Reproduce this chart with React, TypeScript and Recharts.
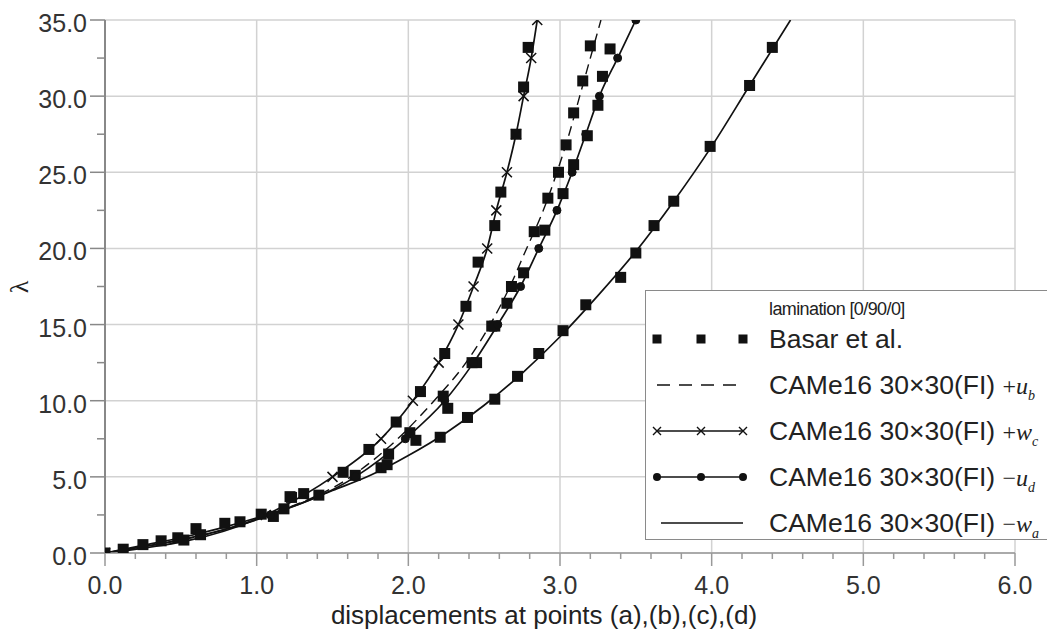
import React from 'react';
import { ComposedChart, Line, Scatter, XAxis, YAxis, CartesianGrid } from 'recharts';

// load factor steps of the CAMe16 runs (a marker at every step)
const lambdaSteps = [0, 2.5, 5, 7.5, 10, 12.5, 15, 17.5, 20, 22.5, 25, 27.5, 30, 32.5, 35];
const ubDisp = [0, 1.08, 1.62, 1.93, 2.17, 2.38, 2.54, 2.67, 2.78, 2.89, 2.98, 3.06, 3.13, 3.2, 3.27];
const wcDisp = [0, 1.06, 1.5, 1.82, 2.03, 2.2, 2.33, 2.43, 2.52, 2.58, 2.65, 2.71, 2.76, 2.81, 2.85];
const udDisp = [0, 1.09, 1.65, 1.98, 2.24, 2.43, 2.59, 2.74, 2.86, 2.98, 3.08, 3.17, 3.26, 3.38, 3.5];

// -w_a curve (no markers)
const waDisp = [0, 0.25, 0.5, 0.75, 1.0, 1.25, 1.5, 1.75, 2.0, 2.25, 2.5, 2.75, 3.0, 3.25, 3.5, 3.75, 4.0, 4.25, 4.52];
const waLambda = [0, 0.5, 1.0, 1.6, 2.3, 3.1, 4.1, 5.1, 6.4, 7.9, 9.7, 11.8, 14.2, 16.9, 19.8, 23.1, 26.7, 30.7, 35];

// Basar et al. reference points, one list per branch
const basarLowX = [0, 0.12, 0.25, 0.37, 0.48, 0.52, 0.6, 0.63, 0.79, 0.89, 1.03, 1.18, 1.23, 1.31];
const basarLowY = [0, 0.25, 0.55, 0.8, 1.0, 0.85, 1.6, 1.2, 1.95, 2.05, 2.55, 2.9, 3.65, 3.9];
const basarWcX = [2.79, 2.76, 2.71, 2.61, 2.57, 2.46, 2.38, 2.24, 2.08, 1.92, 1.74, 1.57, 1.22];
const basarWcY = [33.2, 30.6, 27.5, 23.7, 21.5, 19.1, 16.2, 13.1, 10.6, 8.6, 6.8, 5.3, 3.7];
const basarUbX = [3.2, 3.15, 3.09, 3.04, 2.99, 2.92, 2.83, 2.68, 2.55, 2.42, 2.23, 2.01, 1.87, 1.65];
const basarUbY = [33.3, 31.0, 28.9, 26.8, 25.0, 23.3, 21.1, 17.5, 14.9, 12.5, 10.3, 7.9, 6.5, 5.1];
const basarUdX = [3.33, 3.28, 3.25, 3.18, 3.09, 3.02, 2.9, 2.76, 2.65, 2.57, 2.45, 2.26, 2.05, 1.82];
const basarUdY = [33.1, 31.3, 29.4, 27.4, 25.5, 23.6, 21.2, 18.4, 16.4, 14.9, 12.5, 9.5, 7.4, 5.6];
const basarWaX = [4.4, 4.25, 3.99, 3.75, 3.62, 3.5, 3.4, 3.17, 3.02, 2.86, 2.72, 2.57, 2.39, 2.21, 1.86, 1.41, 1.11];
const basarWaY = [33.2, 30.7, 26.7, 23.1, 21.5, 19.7, 18.1, 16.3, 14.6, 13.1, 11.6, 10.1, 8.9, 7.6, 5.8, 3.8, 2.4];

// axis ticks (labels only on the major ones)
const xTicks = [0, 0.2, 0.4, 0.6, 0.8, 1, 1.2, 1.4, 1.6, 1.8, 2, 2.2, 2.4, 2.6, 2.8, 3, 3.2, 3.4, 3.6, 3.8, 4,
  4.2, 4.4, 4.6, 4.8, 5, 5.2, 5.4, 5.6, 5.8, 6];
const yTicks = [0, 2.5, 5, 7.5, 10, 12.5, 15, 17.5, 20, 22.5, 25, 27.5, 30, 32.5, 35];
const xGrid = [0, 1, 2, 3, 4, 5, 6];
const yGrid = [0, 5, 10, 15, 20, 25, 30, 35];

const toPoints = (xs: number[], ys: number[]) => xs.map((x, i) => ({ x, y: ys[i] }));

const ubData = toPoints(ubDisp, lambdaSteps);
const wcData = toPoints(wcDisp, lambdaSteps);
const udData = toPoints(udDisp, lambdaSteps);
const waData = toPoints(waDisp, waLambda);
const basarData = [
  ...toPoints(basarLowX, basarLowY),
  ...toPoints(basarWcX, basarWcY),
  ...toPoints(basarUbX, basarUbY),
  ...toPoints(basarUdX, basarUdY),
  ...toPoints(basarWaX, basarWaY)
];

const SANS = '"Liberation Sans", Arial, sans-serif';
const SERIF = '"Liberation Serif", "Times New Roman", serif';
const INK = '#111';

const isMajor = (v: number, step: number) => Math.abs(v / step - Math.round(v / step)) < 1e-6;

const XTick = (props: any) => {
  const { x, y, payload } = props;
  const v = payload.value as number;
  const major = isMajor(v, 1);
  return (
    <g>
      <line x1={x} y1={y} x2={x} y2={y + (major ? 13 : 6)} stroke="#999" strokeWidth={1.5} />
      {major && (
        <text x={x} y={y + 41} textAnchor="middle" fontSize={25} fontFamily={SANS} fill="#333">
          {v.toFixed(1)}
        </text>
      )}
    </g>
  );
};

const YTick = (props: any) => {
  const { x, y, payload } = props;
  const v = payload.value as number;
  const major = isMajor(v, 5);
  return (
    <g>
      <line x1={x - (major ? 15 : 8)} y1={y} x2={x} y2={y} stroke="#888" strokeWidth={1.5} />
      {major && (
        <text x={x - 18} y={y + 12} textAnchor="end" fontSize={25} fontFamily={SANS} fill="#333">
          {v.toFixed(1)}
        </text>
      )}
    </g>
  );
};

const Square = (props: any) => {
  const { cx, cy } = props;
  if (cx == null || cy == null) return null;
  return <rect x={cx - 5.5} y={cy - 5.5} width={11} height={11} fill={INK} />;
};

const CrossDot = (props: any) => {
  const { cx, cy, index } = props;
  if (cx == null || cy == null) return <g key={`c-${index}`} />;
  const s = 5;
  return (
    <path
      key={`c-${index}`}
      d={`M${cx - s},${cy - s}L${cx + s},${cy + s}M${cx - s},${cy + s}L${cx + s},${cy - s}`}
      stroke={INK}
      strokeWidth={1.5}
      fill="none"
    />
  );
};

type SymbolKind = 'square' | 'dash' | 'cross' | 'circle' | 'solid';

const LegendSymbol = ({ kind }: { kind: SymbolKind }) => {
  const cs = [8, 52, 94];
  return (
    <svg width={104} height={20} style={{ position: 'absolute', left: 3, top: 5 }}>
      {kind === 'square' && cs.map((c) => <rect key={c} x={c - 4.5} y={5.5} width={9} height={9} fill={INK} />)}
      {kind === 'dash' && <line x1={8} y1={10} x2={96} y2={10} stroke={INK} strokeWidth={1.3} strokeDasharray="13 9" />}
      {(kind === 'cross' || kind === 'circle' || kind === 'solid') && (
        <line x1={kind === 'solid' ? 12 : 8} y1={10} x2={94} y2={10} stroke={INK} strokeWidth={1.5} />
      )}
      {kind === 'cross' &&
        cs.map((c) => (
          <path key={c} d={`M${c - 4},6L${c + 4},14M${c - 4},14L${c + 4},6`} stroke={INK} strokeWidth={1.4} />
        ))}
      {kind === 'circle' && cs.map((c) => <circle key={c} cx={c} cy={10} r={4} fill={INK} />)}
    </svg>
  );
};

const legendRows: { kind: SymbolKind; sign?: string; v?: string; sub?: string }[] = [
  { kind: 'square' },
  { kind: 'dash', sign: '+', v: 'u', sub: 'b' },
  { kind: 'cross', sign: '+', v: 'w', sub: 'c' },
  { kind: 'circle', sign: '\u2212', v: 'u', sub: 'd' },
  { kind: 'solid', sign: '\u2212', v: 'w', sub: 'a' }
];

const ChartLegend = () => (
  <div
    style={{
      position: 'absolute',
      left: 645,
      top: 290,
      width: 430,
      height: 248,
      border: '1.5px solid #8a8a8a',
      background: '#fff',
      fontFamily: SANS,
      color: '#222'
    }}
  >
    <div style={{ position: 'absolute', left: 123, top: 8, fontSize: 18, letterSpacing: -0.6 }}>
      lamination [0/90/0]
    </div>
    {legendRows.map((row, i) => (
      <div key={row.kind} style={{ position: 'absolute', left: 0, top: 33 + i * 46, height: 30, width: 430 }}>
        <LegendSymbol kind={row.kind} />
        <div style={{ position: 'absolute', left: 123, top: 0, fontSize: 26.5, whiteSpace: 'nowrap', lineHeight: '30px' }}>
          {row.sign ? (
            <>
              CAMe16 30{'\u00d7'}30(FI){' '}
              <span style={{ fontFamily: SERIF, fontSize: 24 }}>
                {row.sign}
                <i>{row.v}</i>
                <i style={{ fontSize: 14, position: 'relative', top: 6 }}>{row.sub}</i>
              </span>
            </>
          ) : (
            'Basar et al.'
          )}
        </div>
      </div>
    ))}
  </div>
);

const App: React.FC = () => {
  return (
    <div
      style={{
        position: 'absolute',
        left: 0,
        top: 0,
        width: 1047,
        height: 632,
        overflow: 'hidden',
        background: '#fff'
      }}
    >
      <ComposedChart width={1047} height={632} margin={{ top: 20, right: 32, bottom: 0, left: 0 }}>
        <CartesianGrid
          stroke="#d2d2d2"
          strokeWidth={1.5}
          horizontalValues={yGrid}
          verticalValues={xGrid}
        />
        <XAxis
          type="number"
          dataKey="x"
          domain={[0, 6]}
          ticks={xTicks}
          interval={0}
          allowDataOverflow
          height={79}
          tickSize={0}
          tickMargin={0}
          tickLine={false}
          axisLine={{ stroke: '#999', strokeWidth: 1.5 }}
          tick={<XTick />}
          label={() => (
            <text x={544} y={624} textAnchor="middle" fontSize={26} fontFamily={SANS} fill="#222">
              displacements at points (a),(b),(c),(d)
            </text>
          )}
        />
        <YAxis
          type="number"
          dataKey="y"
          domain={[0, 35]}
          ticks={yTicks}
          interval={0}
          allowDataOverflow
          width={105}
          tickSize={0}
          tickMargin={0}
          tickLine={false}
          axisLine={{ stroke: '#888', strokeWidth: 2 }}
          tick={<YTick />}
          label={() => (
            <text x={28} y={287} transform="rotate(-90 28 287)" textAnchor="middle" fontSize={26} fontFamily={SERIF} fill="#222">
              {'\u03bb'}
            </text>
          )}
        />
        <Scatter name="Basar et al." data={basarData} shape={<Square />} isAnimationActive={false} />
        <Line
          data={waData}
          dataKey="y"
          type="monotone"
          stroke={INK}
          strokeWidth={1.7}
          dot={false}
          activeDot={false}
          isAnimationActive={false}
        />
        <Line
          data={ubData}
          dataKey="y"
          type="monotone"
          stroke={INK}
          strokeWidth={1.4}
          strokeDasharray="10 6"
          dot={false}
          activeDot={false}
          isAnimationActive={false}
        />
        <Line
          data={udData}
          dataKey="y"
          type="monotone"
          stroke={INK}
          strokeWidth={1.7}
          dot={{ r: 4, fill: INK, stroke: INK, strokeWidth: 1 }}
          activeDot={false}
          isAnimationActive={false}
        />
        <Line
          data={wcData}
          dataKey="y"
          type="monotone"
          stroke={INK}
          strokeWidth={1.7}
          dot={(p: any) => <CrossDot {...p} key={`wc-${p.index}`} />}
          activeDot={false}
          isAnimationActive={false}
        />
      </ComposedChart>
      <ChartLegend />
    </div>
  );
};

export default App;
